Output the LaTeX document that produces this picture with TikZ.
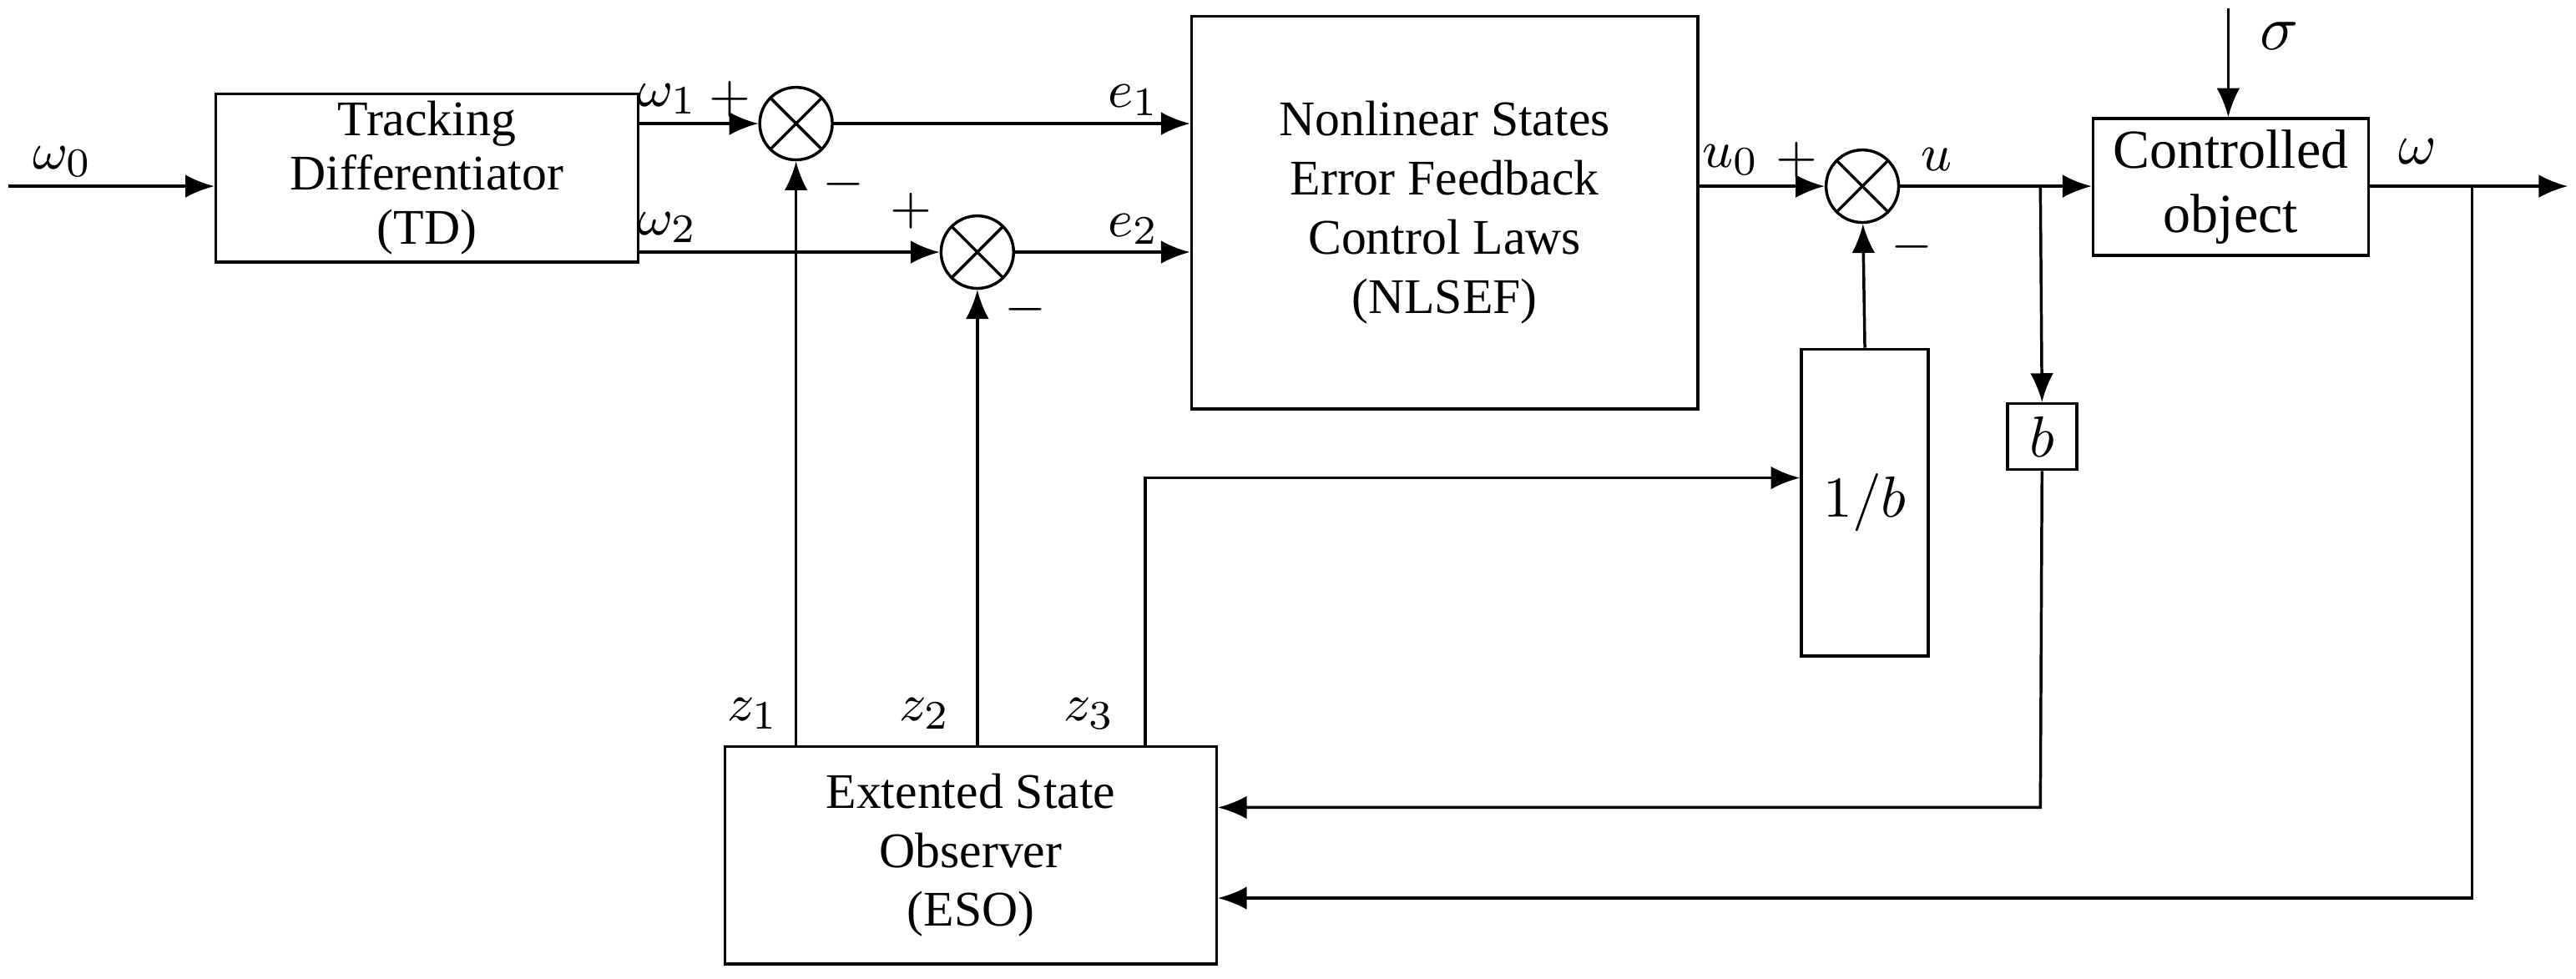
\documentclass[tikz,border=0pt]{standalone}
\usepackage{fontspec}
\setmainfont{Liberation Serif}
\usetikzlibrary{arrows.meta}
\begin{document}
\begin{tikzpicture}[x=0.01cm,y=-0.01cm,
  every node/.style={font=\fontsize{8.6}{10.2}\selectfont},
  blk/.style={draw,line width=0.5pt,inner sep=0pt,align=center},
  sum/.style={draw,circle,minimum size=0.44cm,inner sep=0pt,line width=0.5pt,
    path picture={\draw (path picture bounding box.north west)--(path picture bounding box.south east)
      (path picture bounding box.north east)--(path picture bounding box.south west);}},
  lbl/.style={font=\fontsize{9.5}{10}\selectfont\itshape},
  ar/.style={line width=0.5pt,-{Latex[length=5pt,width=4pt]}},
  ln/.style={line width=0.5pt}]
\useasboundingbox (0,0) rectangle (1563,594);
% blocks
\node[blk,minimum width=2.56cm,minimum height=1.02cm,font=\fontsize{8.6}{9.4}\selectfont] (td) at (259,108) {Tracking\\Differentiator\\(TD)};
\node[blk,minimum width=3.07cm,minimum height=2.38cm] (nl) at (876.5,129) {Nonlinear States\\Error Feedback\\Control Laws\\(NLSEF)};
\node[blk,minimum width=1.67cm,minimum height=0.83cm,font=\fontsize{9.5}{11}\selectfont] (co) at (1353.5,113.5) {Controlled\\object};
\node[blk,minimum width=0.77cm,minimum height=1.86cm,font=\fontsize{10}{11}\selectfont] (ib) at (1131.5,305) {$1/b$};
\node[blk,minimum width=0.42cm,minimum height=0.40cm,font=\fontsize{10}{11}\selectfont] (bb) at (1239,265) {$b$};
\node[blk,minimum width=2.98cm,minimum height=1.32cm] (eso) at (589,519) {Extented State\\Observer\\(ESO)};
% sums
\node[sum] (s1) at (483,75) {};
\node[sum] (s2) at (593,153) {};
\node[sum] (s3) at (1130,113) {};
% coordinates
\coordinate (in) at (5,113);
\coordinate (out) at (1558,113);
\coordinate (sig) at (1352,5);
\coordinate (br) at (1238,113);
\coordinate (fo) at (1500,113);
% connectors
\draw[ar] (in) -- (td.west |- in);
\draw[ar] (td.east |- s1) -- (s1);
\draw[ar] (s1) -- (nl.west |- s1);
\draw[ar] (td.east |- s2) -- (s2);
\draw[ar] (s2) -- (nl.west |- s2);
\draw[ar] (nl.east |- s3) -- (s3);
\draw[ar] (s3) -- (co.west |- s3);
\draw[ar] (sig) -- (co.north -| sig);
\draw[ar] (co.east |- out) -- (out);
\draw[ar] (br) -- (bb.north);
\draw[ar] (ib.north) -- (s3);
\draw[ar] (eso.north -| s1) -- (s1);
\draw[ar] (eso.north -| s2) -- (s2);
\draw[ar] (eso.north -| 695,0) -- (695,290) -- (ib.west |- 0,290);
\draw[ar] (bb.south) -- (1238,490) -- (eso.east |- 0,490);
\draw[ar] (fo) -- (1500,545) -- (eso.east |- 0,545);
% labels
\node[lbl] at (38,98) {$\omega_0$};
\node[lbl] at (405,60) {$\omega_1$};
\node[lbl] at (443,60) {$+$};
\node[lbl] at (512,112) {$-$};
\node[lbl] at (405,138) {$\omega_2$};
\node[lbl] at (553,128) {$+$};
\node[lbl] at (622,188) {$-$};
\node[lbl] at (688,61) {$e_1$};
\node[lbl] at (688,139) {$e_2$};
\node[lbl] at (1050,97) {$u_0$};
\node[lbl] at (1090,97) {$+$};
\node[lbl] at (1175,97) {$u$};
\node[lbl] at (1160,150) {$-$};
\node[lbl] at (1383,22) {\fontsize{11}{12}\selectfont$\sigma$};
\node[lbl] at (1467,92) {\fontsize{10}{12}\selectfont$\omega$};
\node[lbl] at (457,433) {$z_1$};
\node[lbl] at (561,433) {$z_2$};
\node[lbl] at (661,433) {$z_3$};
\end{tikzpicture}
\end{document}
